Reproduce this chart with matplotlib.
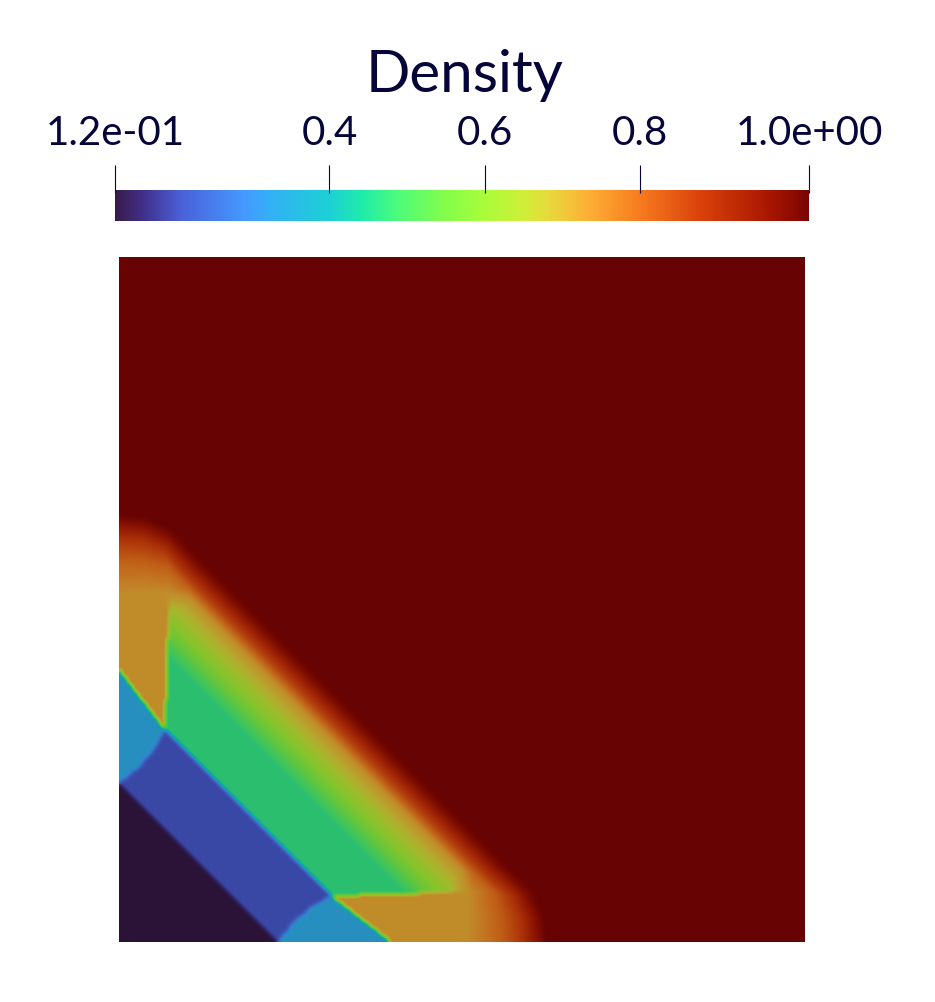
#!/usr/bin/env python
import numpy as np
import matplotlib
matplotlib.use("Agg")
import matplotlib.pyplot as plt
import matplotlib.tri as mtri
from matplotlib.cm import ScalarMappable
from matplotlib.colors import LinearSegmentedColormap, Normalize
from matplotlib.path import Path

# colour bar range and labels
rho_min = 0.124
rho_max = 1.017
tick_values = [0.124, 0.4, 0.6, 0.8, 1.017]
tick_labels = ["1.2e-01", "0.4", "0.6", "0.8", "1.0e+00"]

# colour bar
bar_pos = [0.0, 0.04, 0.094, 0.185, 0.223, 0.309, 0.357, 0.406, 0.478, 0.532, 0.59, 0.627, 0.684, 0.757, 0.847, 0.944, 1.0]
bar_hex = ["#3a1a4a", "#40308a", "#4a60d8", "#4499ff", "#33b0f5", "#1cd0d5", "#20eca8", "#4cfb7c", "#85fd48",
           "#a9fc3a", "#d0ee38", "#e8d83c", "#fdae35", "#f77b1f", "#d8400a", "#a81602", "#7a0403"]
# the surface is lit, so it comes out darker than the bar
lit_gain = [0.75, 0.78, 0.8, 0.8, 0.8, 0.78, 0.78, 0.78, 0.78, 0.78, 0.78, 0.78, 0.77, 0.78, 0.8, 0.82, 0.85]

# expansion fan, one front per density (lower half, mirrored over the diagonal)
fan_rho = [0.468, 0.53, 0.60, 0.67, 0.725, 0.80, 0.88, 0.99, 1.017]
fan_x = [[167.5, 289.0, 300.0, 315.0, 330.0],
         [176.5, 305.0, 315.0, 330.0, 340.0],
         [186.5, 322.0, 330.0, 340.0, 344.0],
         [197.5, 333.0, 335.0, 345.0, 346.0],
         [208.0, 344.0, 350.0, 350.0, 348.0],
         [212.0, 356.0, 374.0, 380.0, 382.0],
         [218.0, 370.0, 392.0, 401.0, 403.0],
         [228.0, 380.0, 407.0, 419.0, 422.0],
         [232.5, 385.0, 414.0, 425.0, 428.0]]
fan_y = [[167.5, 46.0, 35.0, 20.0, 0.0],
         [176.5, 47.0, 38.0, 23.0, 0.0],
         [186.5, 48.0, 41.0, 25.0, 0.0],
         [197.5, 62.0, 48.0, 25.0, 0.0],
         [208.0, 72.0, 50.0, 25.0, 0.0],
         [212.0, 68.0, 50.0, 26.0, 0.0],
         [218.0, 66.0, 46.0, 24.0, 0.0],
         [228.0, 76.0, 50.0, 26.0, 0.0],
         [232.5, 80.0, 52.0, 26.0, 0.0]]

# constant states, lower half outlines
orange_x = [212, 272, 348, 350, 350, 333]
orange_y = [46, 0, 0, 25, 50, 50]
orange_rho = 0.725
green_x = [129, 212, 287, 167.5]
green_y = [129, 46, 48.5, 167.5]
green_rho = 0.468
teal_x = [212, 191, 174, 159, 272]
teal_y = [46, 34, 19, 0, 0]
teal_rho = 0.335
blue_x = [79, 159, 174, 191, 212, 129]
blue_y = [79, 0, 19, 34, 46, 129]
blue_rho = 0.204
dark_x = [0, 158, 79]
dark_y = [0, 0, 79]
dark_rho = 0.124

size_x = 686
size_y = 685
cells = 343
ink = "#05053a"


def paint_fan(field, X, Y):
    n = len(fan_x[0])
    tris = []
    for j in range(n - 1):
        tris.append([j, j + 1, n + j])
        tris.append([j + 1, n + j + 1, n + j])
    for xs, ys in ((fan_x, fan_y), (fan_y, fan_x)):
        for i in range(len(fan_rho) - 1):
            t = mtri.Triangulation(xs[i] + xs[i + 1], ys[i] + ys[i + 1], tris)
            z = [fan_rho[i]] * n + [fan_rho[i + 1]] * n
            vals = mtri.LinearTriInterpolator(t, z)(X, Y)
            field[~vals.mask] = vals[~vals.mask]


def paint_region(field, pts, xs, ys, rho):
    for a, b in ((xs, ys), (ys, xs)):
        inside = Path(np.c_[a, b]).contains_points(pts)
        field[inside.reshape(field.shape)] = rho


def smooth(field):
    padded = np.pad(field, 1, mode="edge")
    return np.lib.stride_tricks.sliding_window_view(padded, (3, 3)).mean(axis=(2, 3))


def main():
    xc = (np.arange(cells) + 0.5) * size_x / cells
    yc = (np.arange(cells) + 0.5) * size_y / cells
    X, Y = np.meshgrid(xc, yc)
    pts = np.c_[X.ravel(), Y.ravel()]

    field = np.full(X.shape, rho_max)
    paint_fan(field, X, Y)
    paint_region(field, pts, orange_x, orange_y, orange_rho)
    paint_region(field, pts, green_x, green_y, green_rho)
    paint_region(field, pts, teal_x, teal_y, teal_rho)
    paint_region(field, pts, blue_x, blue_y, blue_rho)
    paint_region(field, pts, dark_x, dark_y, dark_rho)
    field = smooth(field)

    bar_rgb = [matplotlib.colors.to_rgb(c) for c in bar_hex]
    bar_cmap = LinearSegmentedColormap.from_list("bar", list(zip(bar_pos, bar_rgb)), N=512)
    lit_rgb = [tuple(g * v for v in c) for g, c in zip(lit_gain, bar_rgb)]
    lit_cmap = LinearSegmentedColormap.from_list("lit", list(zip(bar_pos, lit_rgb)), N=512)
    norm = Normalize(rho_min, rho_max)

    plt.rcParams["font.family"] = ["Lato", "DejaVu Sans"]
    w, h = 935, 1003
    fig = plt.figure(figsize=(w / 100, h / 100), dpi=100)

    ax = fig.add_axes([119 / w, (h - 943) / h, size_x / w, size_y / h])
    ax.imshow(field, origin="lower", extent=(0, size_x, 0, size_y), aspect="auto", cmap=lit_cmap, norm=norm,
              interpolation="bilinear", interpolation_stage="data")
    ax.set_axis_off()

    cax = fig.add_axes([115 / w, (h - 222) / h, 694 / w, 31 / h])
    cb = fig.colorbar(ScalarMappable(norm=norm, cmap=bar_cmap), cax=cax, orientation="horizontal")
    cb.outline.set_visible(False)
    cb.set_ticks(tick_values, labels=tick_labels)
    cax.xaxis.set_ticks_position("top")
    cax.tick_params(axis="x", length=18, width=0.8, color=ink, labelcolor=ink, labelsize=29, pad=10)
    cax.vlines(tick_values, 0.9, 1.0, color=ink, lw=0.8, transform=cax.get_xaxis_transform(), clip_on=False)

    fig.text(465 / w, 1 - 92 / h, "Density", color=ink, fontsize=42, ha="center", va="baseline")

    plt.savefig("out.png", dpi=100)


if __name__ == "__main__":
    main()
